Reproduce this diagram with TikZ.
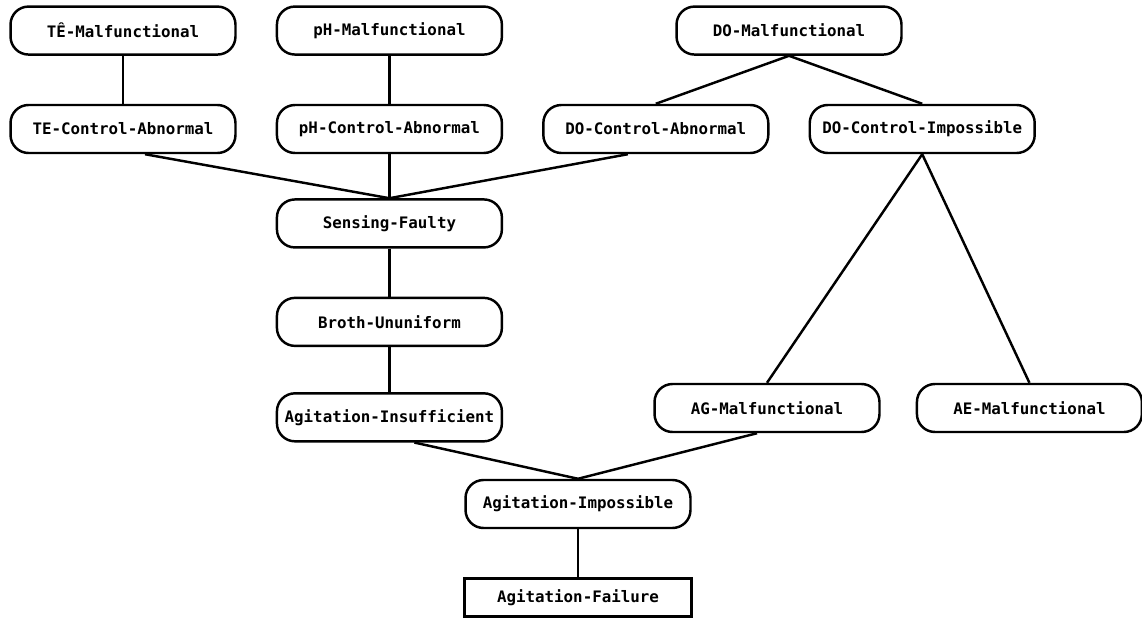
\documentclass[tikz,border=0pt]{standalone}
\usepackage{fontspec}
\usetikzlibrary{positioning,calc}
\newfontfamily\boxfont{DejaVu Sans Mono}
\tikzset{
  fault/.style={draw,fill=white,line width=1.4pt,rounded corners=0.36cm,minimum width=4.5cm,minimum height=0.96cm,inner xsep=2pt,align=center,font=\boxfont\bfseries\fontsize{9}{10}\selectfont},
  topfault/.style={draw,fill=white,line width=1.6pt,minimum width=4.54cm,minimum height=0.76cm,inner xsep=2pt,align=center,font=\boxfont\bfseries\fontsize{9}{10}\selectfont},
  link/.style={draw=black,line width=1.4pt}
}
\begin{document}
\begin{tikzpicture}[x=0.02cm,y=-0.02cm,node distance=0.96cm and 0.78cm]
  \fill[white] (0,0) rectangle (1142,625);
  \useasboundingbox (0,0) rectangle (1142,625);
  % control row
  \node[fault] (tectl) at (123,129) {TE-Control-Abnormal};
  \node[fault,right=of tectl] (phctl) {pH-Control-Abnormal};
  \node[fault,right=of phctl] (doabn) {DO-Control-Abnormal};
  \node[fault,right=of doabn] (doimp) {DO-Control-Impossible};
  % malfunction row
  \node[fault,above=of tectl] (temal) {TÊ-Malfunctional};
  \node[fault,above=of phctl] (phmal) {pH-Malfunctional};
  \coordinate (domid) at ($(doabn)!0.5!(doimp)$);
  \node[fault] (domal) at (domid |- phmal) {DO-Malfunctional};
  % middle chain
  \node[fault,below=0.88cm of phctl] (sensing) {Sensing-Faulty};
  \node[fault,below=of sensing] (broth) {Broth-Ununiform};
  \node[fault,below=0.9cm of broth] (insuff) {Agitation-Insufficient};
  \node[fault] (agmal) at (767,408) {AG-Malfunctional};
  \node[fault,right=0.7cm of agmal] (aemal) {AE-Malfunctional};
  \node[fault] (aimp) at (578,504) {Agitation-Impossible};
  \node[topfault,below=of aimp] (afail) {Agitation-Failure};

  \draw[link] (temal) -- (tectl);
  \draw[link] (phmal) -- (phctl);
  \draw[link] (domal.south) -- (doabn.north);
  \draw[link] (domal.south) -- (doimp.north);
  \draw[link] ([xshift=0.44cm]tectl.south) -- (sensing.north);
  \draw[link] (phctl) -- (sensing);
  \draw[link] ([xshift=-0.56cm]doabn.south) -- (sensing.north);
  \draw[link] (sensing) -- (broth);
  \draw[link] (broth) -- (insuff);
  \draw[link] (doimp.south) -- (agmal.north);
  \draw[link] (doimp.south) -- (aemal.north);
  \draw[link] ([xshift=0.5cm]insuff.south) -- (aimp.north);
  \draw[link] ([xshift=-0.2cm]agmal.south) -- (aimp.north);
  \draw[link] (aimp) -- (afail);
\end{tikzpicture}
\end{document}
